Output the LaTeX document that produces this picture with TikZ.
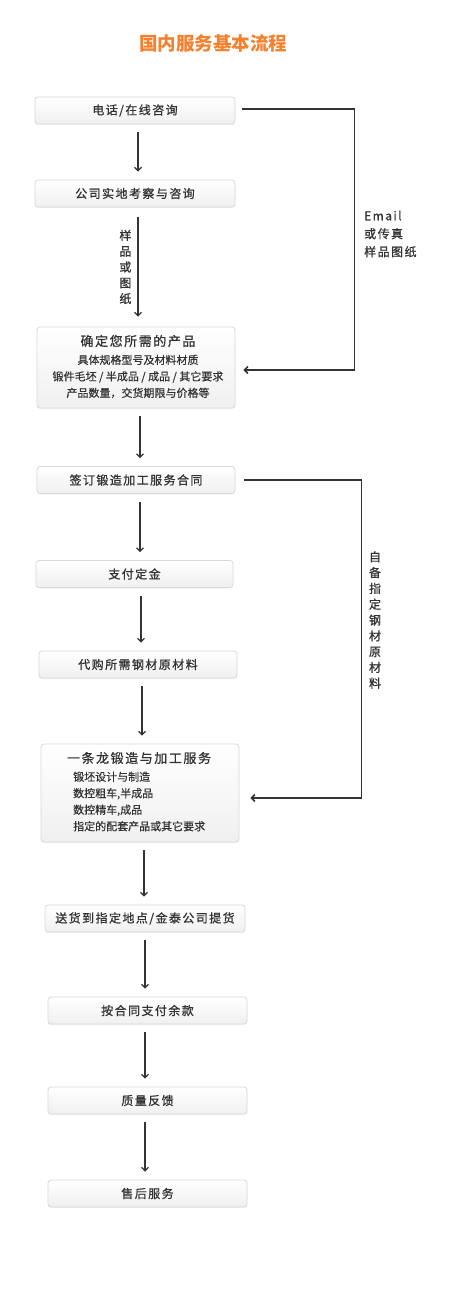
\documentclass[tikz,border=0pt]{standalone}
\usepackage{fontspec}
\usepackage{xcolor}
\setmainfont{Noto Sans CJK SC}
\newfontfamily\spacedfont[LetterSpace=12,FakeBold=0.9]{Noto Sans CJK SC}
\newfontfamily\plainfont[FakeBold=0.5]{Noto Sans CJK SC}
\usetikzlibrary{arrows.meta,positioning,shadows,calc}
\definecolor{Ink}{HTML}{333333}
\definecolor{Heading}{HTML}{F5812F}
\definecolor{Frame}{HTML}{D9D9D9}

\tikzset{
  stepbox/.style={draw=Frame, line width=0.8pt, rounded corners=3pt,
    top color=white, bottom color=black!6, inner sep=0pt,
    minimum width=200pt, minimum height=27pt, text=Ink,
    font=\spacedfont\fontsize{12}{12}\selectfont,
    drop shadow={opacity=0.10, shadow xshift=0pt, shadow yshift=-1pt}},
  boxtitle/.style={inner sep=0pt, text=Ink, font=\spacedfont\fontsize{13}{13}\selectfont},
  boxlines/.style={inner sep=0pt, text=Ink, font=\plainfont\fontsize{11}{16.5}\selectfont},
  flow/.style={draw=Ink, line width=1.2pt, -{Straight Barb[length=3.5pt,width=7pt]},
    shorten <=8pt, shorten >=8pt},
  link/.style={draw=Ink, line width=1.5pt, -{Straight Barb[length=3.5pt,width=7pt]},
    rounded corners=0pt},
  sidenote/.style={inner sep=0pt, text=Ink, font=\spacedfont\fontsize{12}{15.8}\selectfont, align=center}
}

\begin{document}
\begin{tikzpicture}[x=1pt,y=-1pt]
  \useasboundingbox[fill=white] (0,0) rectangle (476,1300);
  \node[text=Heading, font=\fontsize{18.5}{18.5}\bfseries\selectfont] (heading) at (213,43) {国内服务基本流程};

  % steps
  \node[stepbox] (phone) at (135,110.5) {电话/在线咨询};
  \node[stepbox] (visit) at (135,193.5) {公司实地考察与咨询};
  \node[stepbox, minimum width=198pt, minimum height=81pt] (confirm) at (136,367.5) {};
  \node[boxtitle] (confirmtitle) at (138,341) {确定您所需的产品};
  \node[boxlines, align=center] (confirmlines) at (138,376.5) {具体规格型号及材料材质\\锻件毛坯 / 半成品 / 成品 / 其它要求\\产品数量，交货期限与价格等};
  \node[stepbox, minimum width=198pt] (contract) at (136,480) {签订锻造加工服务合同};
  \node[stepbox, minimum width=197pt] (deposit) at (134.5,574) {支付定金};
  \node[stepbox, minimum width=198pt] (purchase) at (138,664.5) {代购所需钢材原材料};
  \node[stepbox, minimum width=198pt, minimum height=98pt] (forging) at (140,793) {};
  \node[boxtitle] (forgingtitle) at (139,758) {一条龙锻造与加工服务};
  \node[boxlines, align=left, anchor=west] (forginglines) at (73,801.5) {锻坯设计与制造\\数控粗车,半成品\\数控精车,成品\\指定的配套产品或其它要求};
  \node[stepbox] (delivery) at (145,918.5) {送货到指定地点/金泰公司提货};
  \node[stepbox, minimum width=199pt] (balance) at (147.5,1010.5) {按合同支付余款};
  \node[stepbox, minimum width=199pt] (feedback) at (147.5,1100.5) {质量反馈};
  \node[stepbox, minimum width=199pt] (service) at (147.5,1193.5) {售后服务};

  % main flow
  \draw[flow] ([xshift=3pt]phone.south) -- ([xshift=3pt]phone.south |- visit.north);
  \draw[flow, shorten <=10pt, shorten >=10pt] ([xshift=3pt]visit.south) -- ([xshift=3pt]visit.south |- confirm.north)
    node[midway, left=6pt, sidenote] (samplenote) {样\\品\\或\\图\\纸};
  \draw[flow] ([xshift=4pt]confirm.south) -- ([xshift=4pt]confirm.south |- contract.north);
  \draw[flow] ([xshift=4pt]contract.south) -- ([xshift=4pt]contract.south |- deposit.north);
  \draw[flow] ([xshift=6.5pt]deposit.south) -- ([xshift=6.5pt]deposit.south |- purchase.north);
  \draw[flow] ([xshift=4pt]purchase.south) -- ([xshift=4pt]purchase.south |- forging.north);
  \draw[flow] ([xshift=4pt]forging.south) -- ([xshift=4pt]forging.south |- delivery.north);
  \draw[flow] (delivery.south) -- (delivery.south |- balance.north);
  \draw[flow] ([xshift=-2.5pt]balance.south) -- ([xshift=-2.5pt]feedback.north);
  \draw[flow] ([xshift=-2.5pt]feedback.south) -- ([xshift=-2.5pt]service.north);

  % side routes
  \draw[link, shorten <=7pt, shorten >=8pt] ([yshift=1.5pt]phone.east) -- ++(119,0) |- ([yshift=-2.5pt]confirm.east);
  \node[sidenote, align=left, anchor=west, font=\spacedfont\fontsize{12}{18}\selectfont] (emailnote) at (364,234) {Email\\或传真\\样品图纸};
  \draw[link, shorten <=9pt, shorten >=11pt] (contract.east) -- ++(126,0) |- ([yshift=-5pt]forging.east);
  \node[sidenote] (ownnote) at (375,620) {自\\备\\指\\定\\钢\\材\\原\\材\\料};
\end{tikzpicture}
\end{document}
